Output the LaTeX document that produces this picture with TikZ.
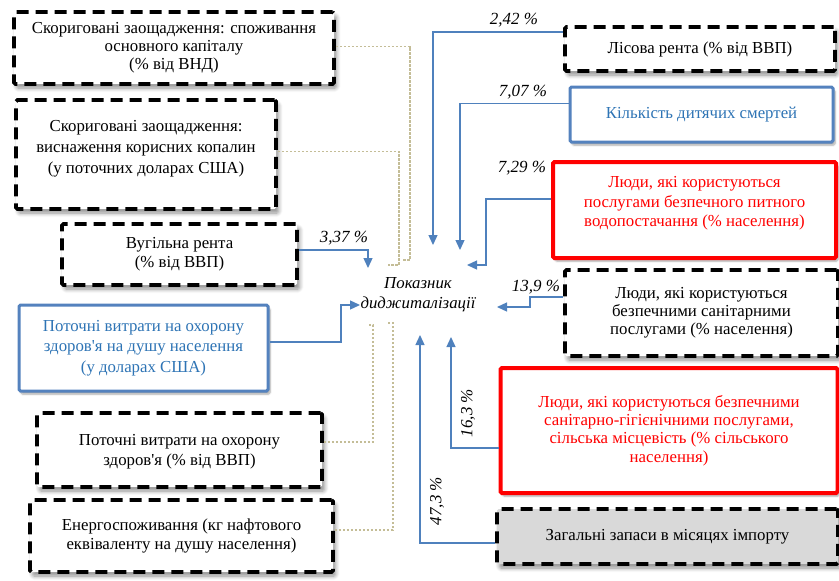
\documentclass[tikz,border=0pt]{standalone}
\usepackage{fontspec}
\setmainfont{Liberation Serif}
\usetikzlibrary{arrows.meta,calc,shadows.blur}

\definecolor{linkblue}{RGB}{79,129,189}
\definecolor{frameblue}{RGB}{84,130,190}
\definecolor{textblue}{RGB}{46,116,181}
\definecolor{tanline}{RGB}{196,189,151}
\definecolor{lightfill}{RGB}{217,217,217}

\tikzset{
  boxtext/.style={font=\fontsize{16.8}{19.3}\selectfont},
  tightlines/.style={font=\fontsize{16.8}{18.2}\selectfont},
  looselines/.style={font=\fontsize{16.8}{20.6}\selectfont},
  dashbox/.style={draw=black, line width=3.8pt, dash pattern=on 12pt off 7pt,
    rounded corners=1.5pt, fill=white, align=center, inner sep=0pt, boxtext,
    blur shadow={shadow xshift=2.5pt, shadow yshift=-4pt, shadow opacity=45,
      shadow blur steps=6, shadow blur radius=4pt}},
  bluebox/.style={draw=frameblue, line width=3pt, rounded corners=1.5pt, fill=white,
    text=textblue, align=center, inner sep=0pt, boxtext,
    blur shadow={shadow xshift=2pt, shadow yshift=-3pt, shadow opacity=35, shadow blur steps=6}},
  redbox/.style={draw=red, line width=4pt, rounded corners=1.5pt, fill=white,
    text=red, align=center, inner sep=0pt, boxtext,
    blur shadow={shadow xshift=2pt, shadow yshift=-3pt, shadow opacity=35, shadow blur steps=6}},
  link/.style={draw=linkblue, line width=1.3pt, -{Triangle[length=10pt,width=9pt]}},
  tanlink/.style={draw=tanline, line width=1.2pt, dash pattern=on 2.5pt off 1.5pt},
  pct/.style={font=\fontsize{17}{18}\selectfont\itshape, inner sep=0pt},
}

\begin{document}
\begin{tikzpicture}[x=1pt,y=-1pt]
\useasboundingbox (0,0) rectangle (839,581);

% left column
\node[dashbox, tightlines, minimum width=320pt, minimum height=72pt] (savecap) at (174,48)
  {Скориговані заощадження: споживання\\основного капіталу\\(\% від ВНД)};
\node[dashbox, looselines, minimum width=260pt, minimum height=109pt, text depth=15pt] (savemin) at (146,154.5)
  {Скориговані заощадження:\\виснаження корисних копалин\\(у поточних доларах США)};
\node[dashbox, minimum width=235pt, minimum height=61pt] (coal) at (179.5,254.5)
  {Вугільна рента\\(\% від ВВП)};
\node[bluebox, looselines, minimum width=249pt, minimum height=86pt] (healthpc) at (143.5,348)
  {Поточні витрати на охорону\\здоров\textquotesingle я на душу населення\\(у доларах США)};
\node[dashbox, minimum width=285pt, minimum height=74pt, text depth=0pt] (healthgdp) at (179.5,450)
  {Поточні витрати на охорону\\здоров\textquotesingle я (\% від ВВП)};
\node[dashbox, minimum width=303pt, minimum height=72pt] (energy) at (181.5,536)
  {Енергоспоживання (кг нафтового\\еквіваленту на душу населення)};

% right column
\node[dashbox, minimum width=270pt, minimum height=44pt] (forest) at (700,49)
  {Лісова рента (\% від ВВП)};
\node[bluebox, minimum width=263pt, minimum height=55pt] (deaths) at (701.5,114.5)
  {Кількість дитячих смертей};
\node[redbox, minimum width=283pt, minimum height=96pt, text depth=17pt] (water) at (694.5,210)
  {Люди, які користуються\\послугами безпечного питного\\водопостачання (\% населення)};
\node[dashbox, tightlines, minimum width=273pt, minimum height=86pt] (sanit) at (701.5,313)
  {Люди, які користуються\\безпечними санітарними\\послугами (\% населення)};
\node[redbox, tightlines, minimum width=337pt, minimum height=125pt] (rural) at (669,430.5)
  {Люди, які користуються безпечними\\санітарно-гігієнічними послугами,\\сільська місцевість (\% сільського\\населення)};
\node[dashbox, fill=lightfill, minimum width=341pt, minimum height=55pt] (reserves) at (667.5,536.5)
  {Загальні запаси в місяцях імпорту};

% central indicator
\node[font=\fontsize{16.8}{20}\selectfont\itshape, align=center, inner sep=0pt] (hub) at (418,295)
  {Показник\\диджиталізації};

% arrow tips around the indicator
\coordinate (tipA) at (433,245);
\coordinate (tipB) at (460,250);
\coordinate (tipC) at (467,265);
\coordinate (tipD) at (497,307);
\coordinate (tipE) at (451,337);
\coordinate (tipF) at (420,335);
\coordinate (tipG) at (368,268);
\coordinate (tipH) at (360,305);
% loose ends of the dotted leaders
\coordinate (endA) at (402,260);
\coordinate (endB) at (388,265);
\coordinate (endC) at (368,325);
\coordinate (endD) at (388,323);

% blue connectors
\draw[link] ($(forest.north west)+(0,7)$) -| (tipA);
\draw[link] ($(deaths.north west)+(0,18)$) -| (tipB);
\draw[link] ($(water.north west)+(0,39)$) -| ($(tipC)+(19,0)$) -- (tipC);
\draw[link] ($(sanit.north west)+(0,29)$) -- +(-33,0) |- (tipD);
\draw[link] ($(rural.west)+(0,17.5)$) -| (tipE);
\draw[link] ($(reserves.west)+(0,6.5)$) -| (tipF);
\draw[link] ($(coal.east)+(0,-4.5)$) -| (tipG);
\draw[link] ($(healthpc.east)+(0,-6)$) -| ($(tipH)+(-19,0)$) -- (tipH);

% dotted leaders
\draw[tanlink] ($(savecap.east)+(0,-1.5)$) -| ($(endA)+(8,0)$) -- (endA);
\draw[tanlink] ($(savemin.east)+(0,-3)$) -| ($(endB)+(11,0)$) -- (endB);
\draw[tanlink] ($(healthgdp.east)+(0,-8)$) -| ($(endC)+(5,0)$) -- (endC);
\draw[tanlink] ($(energy.east)+(0,-6)$) -| ($(endD)+(5,0)$) -- (endD);

% shares
\node[pct] (pA) at (514,20) {2,42 \%};
\node[pct] (pB) at (523,92) {7,07 \%};
\node[pct] (pC) at (522,168) {7,29 \%};
\node[pct] (pD) at (536,287) {13,9 \%};
\node[pct] (pG) at (344,238) {3,37 \%};
\node[pct, rotate=90] (pE) at (468,413) {16,3 \%};
\node[pct, rotate=90] (pF) at (437,501) {47,3 \%};
\end{tikzpicture}
\end{document}
